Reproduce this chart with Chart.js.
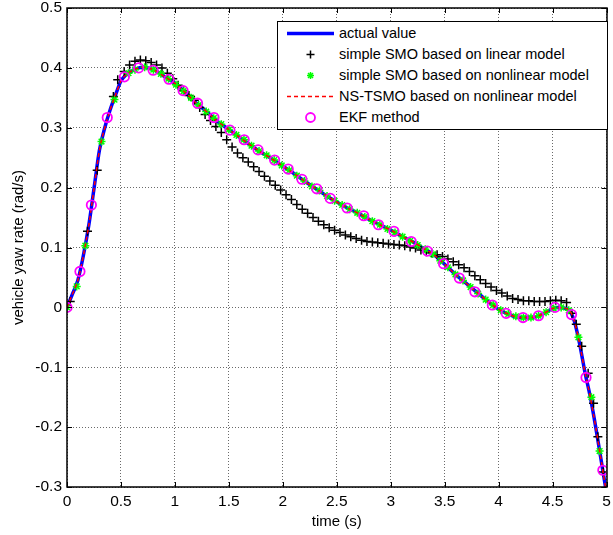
<!DOCTYPE html>
<html>
<head>
<meta charset="utf-8">
<script src="https://cdn.jsdelivr.net/npm/chart.js@4.4.1/dist/chart.umd.min.js"></script>
<style>
  html, body { margin: 0; padding: 0; background: #fff; }
  #wrap { position: relative; width: 613px; height: 535px; }
  #legend {
    position: absolute; left: 277px; top: 21px; width: 329px; height: 107px;
    border: 1px solid #000; background: #fff;
    font-family: "Liberation Sans", Arial, sans-serif; font-size: 14.5px; color: #000;
  }
  .row { position: absolute; left: 0; width: 100%; height: 21px; }
  .row svg { position: absolute; left: 9px; top: 0; }
  .row span { position: absolute; left: 61px; top: 0; line-height: 21px; white-space: nowrap; }
</style>
</head>
<body>
<div id="wrap">
  <canvas id="chart" width="613" height="535"></canvas>
  <div id="legend">
    <div class="row" style="top:1px">
      <svg width="47" height="21"><line x1="0" y1="10.5" x2="47" y2="10.5" stroke="#0000ff" stroke-width="3.5"/></svg>
      <span>actual value</span></div>
    <div class="row" style="top:22px">
      <svg width="47" height="21"><path d="M23.5 6.5 V14.5 M19.5 10.5 H27.5" stroke="#000" stroke-width="1.5"/></svg>
      <span>simple SMO based on linear model</span></div>
    <div class="row" style="top:43px">
      <svg width="47" height="21"><path d="M23.5 7 V14 M20 10.5 H27 M21 8 L26 13 M26 8 L21 13" stroke="#00ff00" stroke-width="1.5"/></svg>
      <span>simple SMO based on nonlinear model</span></div>
    <div class="row" style="top:64px">
      <svg width="47" height="21"><line x1="0" y1="10.5" x2="47" y2="10.5" stroke="#ff0000" stroke-width="1.5" stroke-dasharray="4,3"/></svg>
      <span>NS-TSMO based on nonlinear model</span></div>
    <div class="row" style="top:85px">
      <svg width="47" height="21"><circle cx="23.5" cy="10.5" r="4.5" fill="none" stroke="#ff00ff" stroke-width="1.8"/></svg>
      <span>EKF method</span></div>
  </div>
</div>
<script>
// axis ticks
const xTicks = [0, 0.5, 1, 1.5, 2, 2.5, 3, 3.5, 4, 4.5, 5];
const yTicks = [-0.3, -0.2, -0.1, 0, 0.1, 0.2, 0.3, 0.4, 0.5];

// actual value (also followed by NS-TSMO)
const actualTime = [0, 0.05, 0.1, 0.15, 0.2, 0.25, 0.3, 0.35, 0.4, 0.45, 0.5, 0.55, 0.6,
  0.7, 0.8, 0.9, 1.0, 1.1, 1.2, 1.3, 1.4, 1.5, 1.6, 1.7, 1.8, 1.9, 2.0, 2.1, 2.2, 2.3, 2.4,
  2.5, 2.6, 2.7, 2.8, 2.9, 3.0, 3.1, 3.2, 3.3, 3.4, 3.5, 3.6, 3.7, 3.8, 3.9, 4.0, 4.1, 4.2,
  4.3, 4.4, 4.5, 4.55, 4.6, 4.65, 4.7, 4.75, 4.8, 4.85, 4.9, 4.95, 5.0];
const actualValue = [0, 0.022, 0.045, 0.085, 0.135, 0.198, 0.262, 0.300, 0.330, 0.355, 0.378, 0.389, 0.395,
  0.401, 0.397, 0.386, 0.374, 0.358, 0.341, 0.326, 0.310, 0.297, 0.284, 0.271, 0.259, 0.248, 0.236, 0.224, 0.211, 0.199, 0.187,
  0.176, 0.166, 0.157, 0.147, 0.138, 0.129, 0.119, 0.110, 0.099, 0.088, 0.072, 0.055, 0.040, 0.025, 0.010, -0.003, -0.012, -0.017,
  -0.017, -0.012, -0.002, 0.000, -0.001, -0.004, -0.022, -0.060, -0.108, -0.150, -0.200, -0.255, -0.310];
const nstsmoTime = actualTime;
const nstsmoValue = actualValue;

// simple SMO, linear model (+)
const linearTime = [0.03, 0.19, 0.28, 0.43, 0.47, 0.53, 0.58, 0.63, 0.68, 0.73, 0.78, 0.83, 0.88, 0.93, 0.98,
  1.03, 1.08, 1.13, 1.18, 1.23, 1.28, 1.33, 1.38, 1.43, 1.48, 1.53, 1.58, 1.63, 1.68, 1.73, 1.78, 1.83, 1.88, 1.93, 1.98,
  2.03, 2.08, 2.13, 2.18, 2.23, 2.28, 2.33, 2.38, 2.43, 2.48, 2.53, 2.58, 2.63, 2.68, 2.73, 2.78, 2.83, 2.88, 2.93, 2.98,
  3.03, 3.08, 3.13, 3.18, 3.23, 3.28, 3.33, 3.38, 3.43, 3.48, 3.53, 3.58, 3.63, 3.68, 3.73, 3.78, 3.83, 3.88, 3.93, 3.98,
  4.03, 4.08, 4.13, 4.18, 4.23, 4.28, 4.33, 4.38, 4.43, 4.48, 4.53, 4.58, 4.63, 4.68, 4.72, 4.77, 4.83, 4.88, 4.92, 4.97];
const linearValue = [0.010, 0.127, 0.229, 0.352, 0.380, 0.394, 0.405, 0.411, 0.413, 0.412, 0.409, 0.405, 0.400, 0.391, 0.382,
  0.371, 0.362, 0.354, 0.346, 0.334, 0.322, 0.312, 0.302, 0.292, 0.280, 0.268, 0.258, 0.250, 0.243, 0.235, 0.227, 0.219, 0.211, 0.204, 0.196,
  0.188, 0.180, 0.172, 0.164, 0.157, 0.150, 0.144, 0.138, 0.133, 0.129, 0.125, 0.121, 0.118, 0.115, 0.112, 0.110, 0.109, 0.108, 0.107, 0.106,
  0.105, 0.104, 0.103, 0.101, 0.099, 0.096, 0.093, 0.091, 0.088, 0.085, 0.081, 0.076, 0.071, 0.066, 0.060, 0.053, 0.046, 0.040, 0.034, 0.028,
  0.024, 0.019, 0.015, 0.013, 0.011, 0.011, 0.010, 0.010, 0.010, 0.011, 0.012, 0.011, 0.008, -0.010, -0.028, -0.065, -0.110, -0.160, -0.216, -0.275];

// simple SMO, nonlinear model (*)
const nonlinearTime = [0, 0.09, 0.17, 0.32, 0.44, 0.57, 0.63, 0.72, 0.80, 0.87, 0.94, 1.01, 1.08, 1.15, 1.22,
  1.29, 1.36, 1.43, 1.50, 1.57, 1.64, 1.71, 1.78, 1.85, 1.92, 1.99, 2.06, 2.13, 2.20, 2.27, 2.34, 2.41, 2.48, 2.55, 2.62,
  2.69, 2.76, 2.83, 2.90, 2.97, 3.04, 3.11, 3.18, 3.25, 3.32, 3.39, 3.46, 3.53, 3.60, 3.67, 3.74, 3.81, 3.88, 3.95, 4.02,
  4.09, 4.16, 4.23, 4.30, 4.37, 4.44, 4.51, 4.58, 4.65, 4.74, 4.86, 4.936];
const nonlinearValue = [0, 0.035, 0.103, 0.277, 0.347, 0.391, 0.397, 0.401, 0.397, 0.390, 0.382, 0.372, 0.361, 0.350, 0.338,
  0.327, 0.316, 0.306, 0.297, 0.288, 0.280, 0.270, 0.261, 0.254, 0.246, 0.237, 0.229, 0.220, 0.211, 0.202, 0.195, 0.186, 0.178, 0.171, 0.164,
  0.158, 0.151, 0.144, 0.138, 0.131, 0.125, 0.118, 0.111, 0.104, 0.097, 0.089, 0.078, 0.067, 0.055, 0.045, 0.034, 0.023, 0.013, 0.004, -0.005,
  -0.011, -0.015, -0.017, -0.017, -0.014, -0.008, -0.002, 0.000, -0.005, -0.050, -0.150, -0.240];

// EKF method (o)
const ekfTime = [0, 0.12, 0.226, 0.373, 0.532, 0.664, 0.798, 0.945, 1.076, 1.21, 1.362, 1.51, 1.642, 1.771, 1.924,
  2.05, 2.177, 2.315, 2.44, 2.596, 2.75, 2.887, 3.03, 3.19, 3.34, 3.49, 3.636, 3.78, 3.942, 4.07, 4.226, 4.37, 4.523,
  4.676, 4.81, 4.966];
const ekfValue = [0, 0.060, 0.171, 0.317, 0.385, 0.400, 0.396, 0.381, 0.362, 0.341, 0.317, 0.296, 0.280, 0.263, 0.246,
  0.231, 0.214, 0.198, 0.182, 0.166, 0.153, 0.138, 0.127, 0.110, 0.094, 0.073, 0.049, 0.026, 0.004, -0.010, -0.017, -0.014, 0.000,
  -0.012, -0.117, -0.272];

function points(ts, vs) {
    return ts.map((t, i) => ({ x: t, y: vs[i] }));
}

const fontFamily = '"Liberation Sans", Arial, sans-serif';

// black box + inward tick marks like matlab
const axesBox = {
    id: 'axesBox',
    afterDraw(chart) {
        const { ctx, chartArea: a, scales } = chart;
        const xs = scales.x, ys = scales.y;
        ctx.save();
        ctx.strokeStyle = '#000';
        ctx.lineWidth = 1;
        ctx.beginPath();
        xTicks.forEach(t => {
            const px = Math.round(xs.getPixelForValue(t)) + 0.5;
            ctx.moveTo(px, a.bottom); ctx.lineTo(px, a.bottom - 5);
            ctx.moveTo(px, a.top); ctx.lineTo(px, a.top + 5);
        });
        yTicks.forEach(v => {
            const py = Math.round(ys.getPixelForValue(v)) + 0.5;
            ctx.moveTo(a.left, py); ctx.lineTo(a.left + 5, py);
            ctx.moveTo(a.right, py); ctx.lineTo(a.right - 5, py);
        });
        ctx.stroke();
        ctx.lineWidth = 1.5;
        ctx.strokeRect(Math.round(a.left), Math.round(a.top), Math.round(a.right - a.left), Math.round(a.bottom - a.top));
        ctx.restore();
    }
};

const ctx = document.getElementById('chart').getContext('2d');
const chart = new Chart(ctx, {
    type: 'line',
    data: {
        datasets: [
            {
                label: 'actual value',
                data: points(actualTime, actualValue),
                borderColor: '#0000ff', borderWidth: 3.5,
                pointRadius: 0, cubicInterpolationMode: 'monotone',
                order: 5
            },
            {
                label: 'simple SMO based on linear model',
                data: points(linearTime, linearValue),
                showLine: false, pointStyle: 'cross', pointRadius: 4.5,
                borderColor: '#000', backgroundColor: '#000', pointBorderWidth: 1.5,
                order: 4
            },
            {
                label: 'simple SMO based on nonlinear model',
                data: points(nonlinearTime, nonlinearValue),
                showLine: false, pointStyle: 'star', pointRadius: 4,
                borderColor: '#00ff00', backgroundColor: '#00ff00', pointBorderWidth: 1.5,
                order: 3
            },
            {
                label: 'NS-TSMO based on nonlinear model',
                data: points(nstsmoTime, nstsmoValue),
                borderColor: '#ff0000', borderWidth: 1.5, borderDash: [4, 3],
                pointRadius: 0, cubicInterpolationMode: 'monotone',
                order: 2
            },
            {
                label: 'EKF method',
                data: points(ekfTime, ekfValue),
                showLine: false, pointStyle: 'circle', pointRadius: 4.7,
                borderColor: '#ff00ff', backgroundColor: 'rgba(0,0,0,0)', pointBorderWidth: 1.8,
                order: 1
            }
        ]
    },
    options: {
        responsive: false,
        animation: false,
        devicePixelRatio: 1,
        layout: { padding: { top: 8, right: 1, left: 0, bottom: 0 } },
        plugins: { legend: { display: false }, tooltip: { enabled: false } },
        scales: {
            x: {
                type: 'linear', min: 0, max: 5,
                afterBuildTicks: s => { s.ticks = xTicks.map(v => ({ value: v })); },
                afterFit: s => { s.height = 48; s.paddingLeft = 0; s.paddingRight = 0; },
                ticks: { color: '#000', font: { family: fontFamily, size: 15.5 }, padding: 5, maxRotation: 0,
                    callback: v => String(Math.round(v * 10) / 10) },
                grid: { color: '#6a6a6a', drawTicks: false, lineWidth: 1 },
                border: { display: false, dash: [1, 2] },
                title: { display: true, text: 'time (s)', color: '#000',
                    font: { family: fontFamily, size: 15 }, padding: { top: 0, bottom: 4 } }
            },
            y: {
                type: 'linear', min: -0.3, max: 0.5,
                afterBuildTicks: s => { s.ticks = yTicks.map(v => ({ value: v })); },
                afterFit: s => { s.width = 67; s.paddingTop = 0; s.paddingBottom = 0; },
                ticks: { color: '#000', font: { family: fontFamily, size: 15.5 }, padding: 5,
                    callback: v => String(Math.round(v * 10) / 10) },
                grid: { color: '#6a6a6a', drawTicks: false, lineWidth: 1 },
                border: { display: false, dash: [1, 2] },
                title: { display: true, text: 'vehicle yaw rate (rad/s)', color: '#000',
                    font: { family: fontFamily, size: 15 }, padding: { top: 10, bottom: 0 } }
            }
        }
    },
    plugins: [axesBox]
});
</script>
</body>
</html>
